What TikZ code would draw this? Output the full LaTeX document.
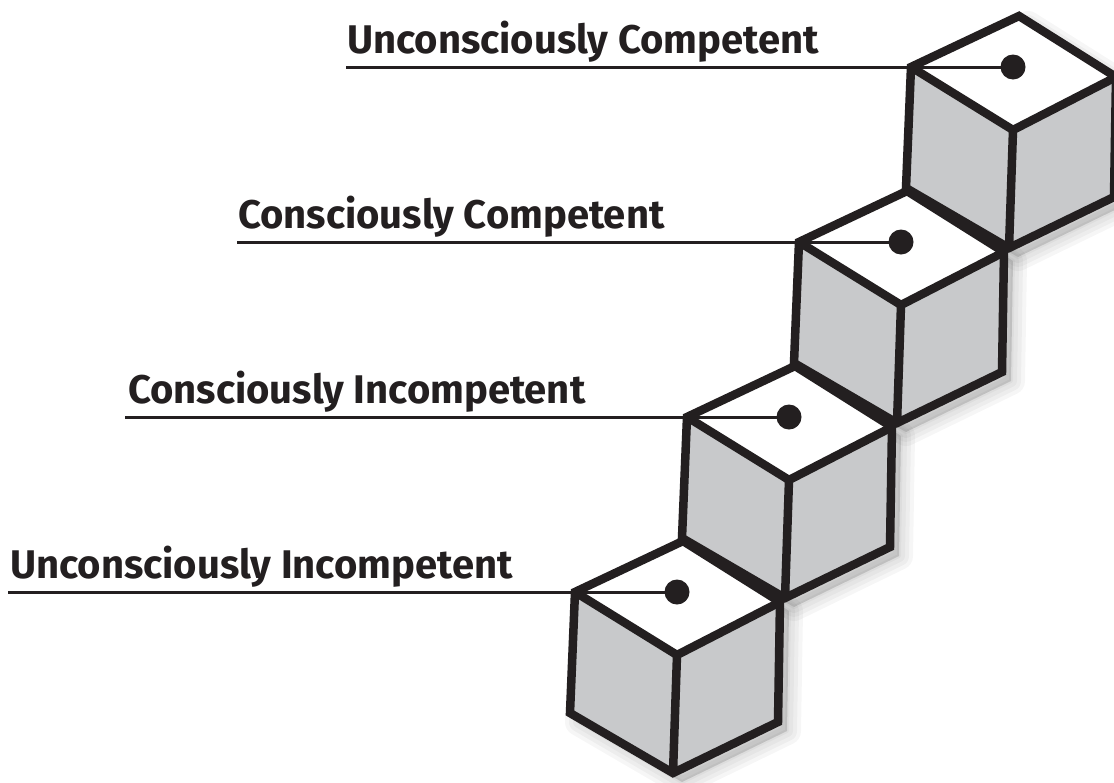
\documentclass[tikz,border=0pt]{standalone}
\usepackage{fontspec}
\setmainfont{Fira Sans}
\usetikzlibrary{calc}
\definecolor{ink}{HTML}{231F20}
\definecolor{face}{HTML}{C8C9CB}
\tikzset{
  edge/.style={draw=ink, line width=8.5pt, line join=miter},
  sideface/.style={fill=face},
  topface/.style={fill=white},
  lbl/.style={anchor=base west, inner sep=0pt, font=\bfseries\fontsize{40}{40}\selectfont, text=ink},
  leader/.style={draw=ink, line width=3pt},
  dotmark/.style={circle, fill=ink, minimum size=25pt, inner sep=0pt},
  shade/.style={fill=black, draw=black, opacity=0.035, line join=round},
}
\newcommand\mkcube[3]{%
  \begin{scope}[shift={(#2,#3)}]
    \coordinate (#1L) at (0,0);
    \coordinate (#1T) at (108,-51);
    \coordinate (#1R) at (205,10);
    \coordinate (#1F) at (102,63);
    \coordinate (#1BL) at (-5,121);
    \coordinate (#1B) at (98,181);
    \coordinate (#1BR) at (203,130);
    \coordinate (#1D) at (102,0);
  \end{scope}}
\newcommand\cubeshadow[3]{%
  \begin{scope}[shift={(#2+9,#3+9)}]
    \foreach \w in {28,20,12,4}{
      \path[shade, line width=\w pt] (0,0)--(108,-51)--(205,10)--(203,130)--(98,181)--(-5,121)--cycle;
    }
  \end{scope}}
\newcommand\drawcube[1]{%
  \path[sideface] (#1L)--(#1F)--(#1B)--(#1BL)--cycle;
  \path[sideface] (#1F)--(#1R)--(#1BR)--(#1B)--cycle;
  \path[topface] (#1L)--(#1T)--(#1R)--(#1F)--cycle;
  \draw[edge] (#1L)--(#1T)--(#1R)--(#1BR)--(#1B)--(#1BL)--cycle;
  \draw[edge] (#1L)--(#1F)--(#1R);
  \draw[edge] (#1F)--(#1B);
}
\begin{document}
\begin{tikzpicture}[x=1pt,y=-1pt]
  \useasboundingbox (0,0) rectangle (1114,782);
  \mkcube{a}{575}{592}
  \mkcube{b}{687}{417}
  \mkcube{c}{799}{242}
  \mkcube{d}{911}{67}
  % shadows
  \cubeshadow{d}{911}{67}
  \cubeshadow{c}{799}{242}
  \cubeshadow{b}{687}{417}
  \cubeshadow{a}{575}{592}
  % cubes back to front
  \drawcube{d}
  \drawcube{c}
  \drawcube{b}
  \drawcube{a}
  % dots
  \node[dotmark] (da) at (aD) {};
  \node[dotmark] (db) at (bD) {};
  \node[dotmark] (dc) at (cD) {};
  \node[dotmark] (dd) at (dD) {};
  % labels
  \node[lbl] (ta) at (10,578) {Unconsciously Incompetent};
  \node[lbl] (tb) at (128,403) {Consciously Incompetent};
  \node[lbl] (tc) at (238,228) {Consciously Competent};
  \node[lbl] (td) at (347,53) {Unconsciously Competent};
  \coordinate (sa) at (8,592);
  \coordinate (sb) at (125,417);
  \coordinate (sc) at (237,242);
  \coordinate (sd) at (346,67);
  \draw[leader] (sa) -- (da.center);
  \draw[leader] (sb) -- (db.center);
  \draw[leader] (sc) -- (dc.center);
  \draw[leader] (sd) -- (dd.center);
\end{tikzpicture}
\end{document}
